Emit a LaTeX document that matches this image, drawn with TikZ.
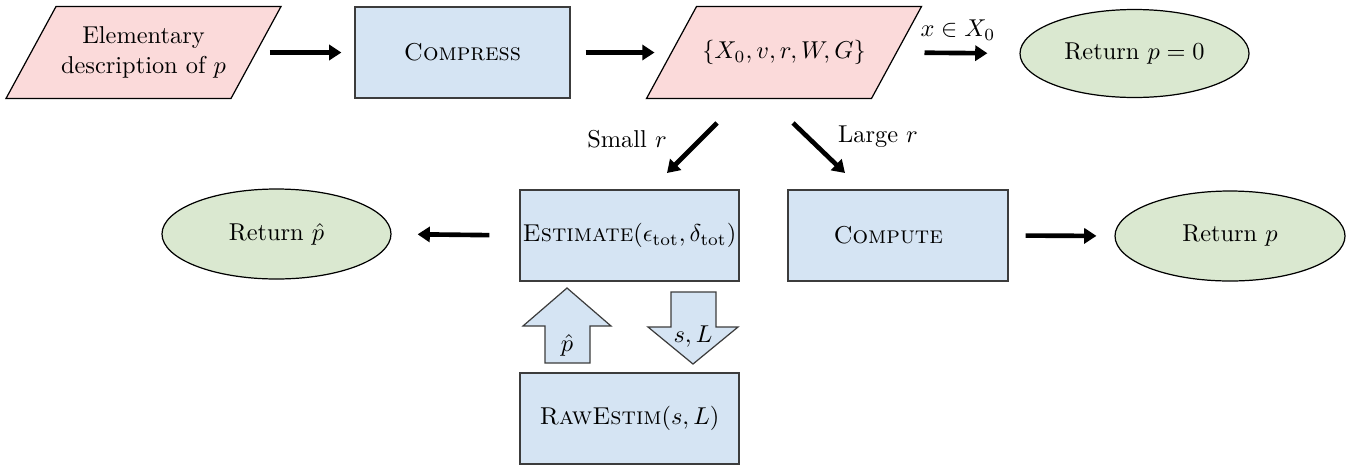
\documentclass[tikz,border=0pt]{standalone}
\usepackage{amsmath}
\usetikzlibrary{arrows.meta,shapes.geometric,calc,backgrounds}
\newcommand{\pxu}{0.41pt}
\definecolor{pinkf}{RGB}{251,218,218}
\definecolor{bluef}{RGB}{213,228,243}
\definecolor{greenf}{RGB}{218,232,208}
\definecolor{boxb}{RGB}{60,60,60}
\begin{document}
\begin{tikzpicture}[x=\pxu,y=-\pxu,
 box/.style={draw=boxb, fill=bluef, line width=0.5pt, minimum width=219*\pxu, minimum height=91*\pxu, inner sep=0pt},
 oval/.style={ellipse, draw, fill=greenf, line width=0.5pt, minimum width=229*\pxu, minimum height=88*\pxu, inner sep=0pt},
 parbox/.style={minimum width=224*\pxu, minimum height=91*\pxu, inner sep=0pt, align=center},
 parshape/.style={draw, fill=pinkf, line width=0.5pt},
 arr/.style={line width=1.9pt, -{Triangle[length=5pt,width=6.2pt]}},
 blk/.style={draw=boxb, fill=bluef, line width=0.5pt, line join=miter}
]
\useasboundingbox (0,0) rectangle (1359,466);

% top row
\node[parbox] (desc) at (143.5,52.5) {Elementary\\description of $p$};
\node[box, minimum width=215*\pxu] (comp) at (462.5,52.5) {\textsc{Compress}};
\node[parbox] (data) at (784,52.5) {$\{X_0,v,r,W,G\}$};
\node[oval] (ret0) at (1134.5,53.5) {Return $p=0$};

\begin{scope}[on background layer]
\draw[parshape] ($(desc.north west)+(25,0)$) -- ($(desc.north east)+(25,0)$) -- ($(desc.south east)+(-25,0)$) -- ($(desc.south west)+(-25,0)$) -- cycle;
\draw[parshape] ($(data.north west)+(25,0)$) -- ($(data.north east)+(25,0)$) -- ($(data.south east)+(-25,0)$) -- ($(data.south west)+(-25,0)$) -- cycle;
\end{scope}

% middle row
\node[oval, minimum height=90*\pxu] (rethat) at (276.5,234) {Return $\hat{p}$};
\node[box] (est) at (629.5,235.5) {\textsc{Estimate}$(\epsilon_{\rm tot},\delta_{\rm tot})$};
\node[box, minimum width=220*\pxu] (cpt) at (898,235.5) {\hspace*{-8pt}\textsc{Compute}};
\node[oval, minimum width=230*\pxu, minimum height=90*\pxu] (retp) at (1230,236) {Return $p$};

% bottom
\node[box] (raw) at (629.5,418.5) {\textsc{RawEstim}$(s,L)$};

% arrows
\draw[arr, shorten <=14*\pxu, shorten >=13*\pxu] (desc.east) -- (comp.west);
\draw[arr, shorten <=15*\pxu, shorten >=17*\pxu] (comp.east) -- (data.west);
\draw[arr, shorten <=28*\pxu, shorten >=32*\pxu] (data.east) -- node[above, yshift=1pt] (lx) {$x\in X_0$} (ret0.west);
\draw[arr, shorten <=30*\pxu, shorten >=26*\pxu] (est.west) -- (rethat.east);
\draw[arr, shorten <=17*\pxu, shorten >=18*\pxu] (cpt.east) -- (retp.west);

\coordinate (s1) at (717,123);
\coordinate (s2) at (667,173);
\coordinate (l1) at (793,123);
\coordinate (l2) at (845,173);
\draw[arr] (s1) -- (s2);
\draw[arr] (l1) -- (l2);
\node (lsmall) at (627,139) {Small $r$};
\node (llarge) at (878,137) {Large $r$};

% block arrows
\draw[blk] (545,363) -- (545,326) -- (523,326) -- (567,288) -- (611,326) -- (590,326) -- (590,363) -- cycle;
\node (uplab) at (567,345) {$\hat{p}$};
\draw[blk] (671,292) -- (716,292) -- (716,327) -- (738,327) -- (693,364) -- (648,327) -- (671,327) -- cycle;
\node (downlab) at (693,337) {$s,L$};
\end{tikzpicture}
\end{document}
